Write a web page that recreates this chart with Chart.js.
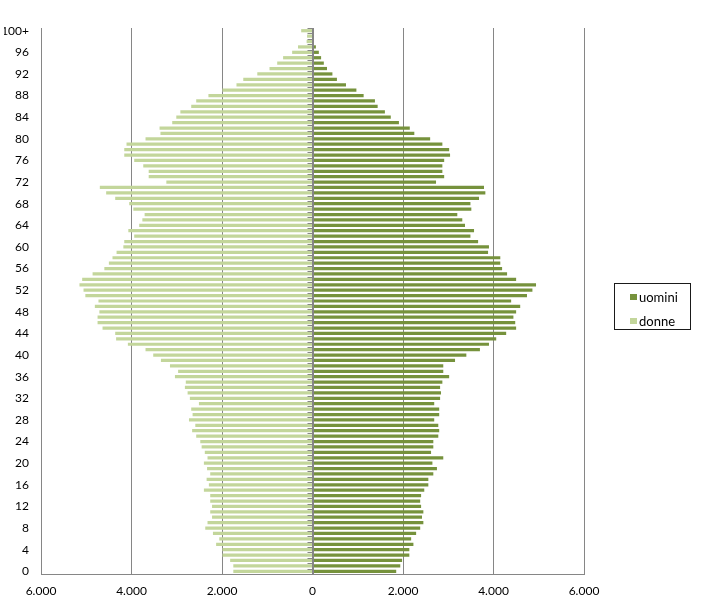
<!DOCTYPE html>
<html lang="it">
<head>
<meta charset="utf-8">
<title>Piramide delle età</title>
<script src="https://cdn.jsdelivr.net/npm/chart.js@4.4.1/dist/chart.umd.min.js"></script>
<style>
  html, body { margin: 0; padding: 0; background: #fff; }
  #wrap { position: relative; width: 705px; height: 602px; }
  #legend {
    position: absolute; left: 614px; top: 283px; width: 77px; height: 47px;
    border: 1px solid #1a1a1a; box-sizing: border-box;
    font: 13px Lato, "Open Sans", sans-serif; color: #000;
  }
  #legend .item { position: absolute; left: 15px; display: flex; align-items: center; }
  #legend .sw { width: 7px; height: 6px; margin-right: 2px; }
</style>
</head>
<body>
<div id="wrap">
  <canvas id="chart" width="705" height="602"></canvas>
  <div id="legend">
    <div class="item" style="top:5px"><span class="sw" style="background:#76923C"></span>uomini</div>
    <div class="item" style="top:29px"><span class="sw" style="background:#C3D69B"></span>donne</div>
  </div>
</div>
<script>
  // età 0..99 e 100+
  const ages = [];
  for (let a = 0; a <= 99; a++) ages.push(String(a));
  ages.push("100+");

  // valori, dall'età 0 a 100+
  const uomini = [
    1850, 1940, 1980, 2140, 2140, 2230, 2180, 2290, 2380, 2450,
    2420, 2450, 2400, 2380, 2400, 2470, 2560, 2560, 2670, 2750,
    2650, 2890, 2620, 2670, 2670, 2780, 2800, 2780, 2690, 2800,
    2800, 2690, 2820, 2840, 2820, 2870, 3020, 2890, 2890, 3150,
    3400, 3700, 3900, 4060, 4280, 4500, 4480, 4440, 4500, 4590,
    4390, 4740, 4860, 4940, 4500, 4300, 4190, 4150, 4150, 3880,
    3900, 3660, 3490, 3570, 3370, 3310, 3200, 3510, 3490, 3680,
    3820, 3790, 2730, 2910, 2870, 2870, 2910, 3040, 3020, 2870,
    2600, 2250, 2150, 1910, 1730, 1600, 1440, 1380, 1130, 970,
    740, 540, 440, 320, 250, 190, 140, 75, 30, 20,
    20,
  ];
  const donne = [
    1750, 1750, 1820, 1990, 1990, 2130, 2060, 2200, 2370, 2320,
    2220, 2260, 2220, 2260, 2260, 2400, 2290, 2340, 2260, 2330,
    2400, 2320, 2380, 2450, 2480, 2570, 2660, 2590, 2730, 2650,
    2680, 2510, 2710, 2760, 2820, 2800, 3040, 2970, 3150, 3350,
    3520, 3690, 4080, 4340, 4360, 4640, 4750, 4750, 4710, 4810,
    4730, 5020, 5060, 5150, 5090, 4860, 4600, 4500, 4420, 4330,
    4180, 4160, 3940, 4070, 3830, 3760, 3710, 3960, 4050, 4360,
    4560, 4700, 3230, 3620, 3620, 3740, 3940, 4160, 4160, 4110,
    3690, 3360, 3380, 3100, 3010, 2920, 2680, 2570, 2300, 1990,
    1680, 1530, 1220, 950, 780, 650, 450, 320, 130, 120,
    250,
  ];

  const xTicks = [-6000, -4000, -2000, 0, 2000, 4000, 6000];

  const FONT = { family: "Lato, 'Open Sans', sans-serif", size: 12 };
  const GRID = "#868686";

  function fmt(v) {
    return String(Math.abs(v)).replace(/\B(?=(\d{3})+(?!\d))/g, ".");
  }

  // piccole tacche sull'asse dello zero, tra una categoria e l'altra
  const zeroTicks = {
    id: "zeroTicks",
    afterDatasetsDraw(chart) {
      const x0 = chart.scales.x.getPixelForValue(0);
      const ys = chart.scales.y;
      const ctx = chart.ctx;
      ctx.save();
      ctx.strokeStyle = GRID;
      ctx.lineWidth = 1;
      ctx.beginPath();
      ctx.moveTo(Math.round(x0) + 0.5, ys.top);
      ctx.lineTo(Math.round(x0) + 0.5, ys.bottom);
      for (let i = 0; i <= ages.length; i++) {
        const y = Math.round((ys.getPixelForValue(i) + ys.getPixelForValue(i - 1)) / 2) + 0.5;
        ctx.moveTo(x0 - 5, y);
        ctx.lineTo(x0 + 1, y);
      }
      ctx.stroke();
      ctx.restore();
    },
  };

  new Chart(document.getElementById("chart"), {
    type: "bar",
    data: {
      labels: ages,
      datasets: [
        {
          label: "uomini",
          data: uomini,
          backgroundColor: "#76923C",
          barPercentage: 0.6,
          categoryPercentage: 1,
        },
        {
          label: "donne",
          data: donne.map((v) => -v),
          backgroundColor: "#C3D69B",
          barPercentage: 0.6,
          categoryPercentage: 1,
        },
      ],
    },
    options: {
      indexAxis: "y",
      responsive: false,
      animation: false,
      layout: { padding: { left: 4, right: 121, top: 28, bottom: 0 } },
      plugins: { legend: { display: false }, tooltip: { enabled: false } },
      scales: {
        x: {
          stacked: true,
          min: -6000,
          max: 6000,
          afterBuildTicks: (s) => { s.ticks = xTicks.map((v) => ({ value: v })); },
          afterFit: (s) => { s.height = 28; },
          ticks: { callback: (v) => fmt(v), color: "#000", font: FONT, padding: 10 },
          grid: { color: GRID, drawTicks: false },
          border: { color: GRID },
        },
        y: {
          stacked: true,
          reverse: true,
          afterFit: (s) => { s.width = 37; },
          ticks: {
            autoSkip: false,
            color: "#000",
            font: FONT,
            padding: 12,
            callback: (v) => (v % 4 === 0 ? ages[v] : ""),
          },
          grid: { display: false, drawTicks: false },
          border: { display: false },
        },
      },
    },
    plugins: [zeroTicks],
  });
</script>
</body>
</html>
